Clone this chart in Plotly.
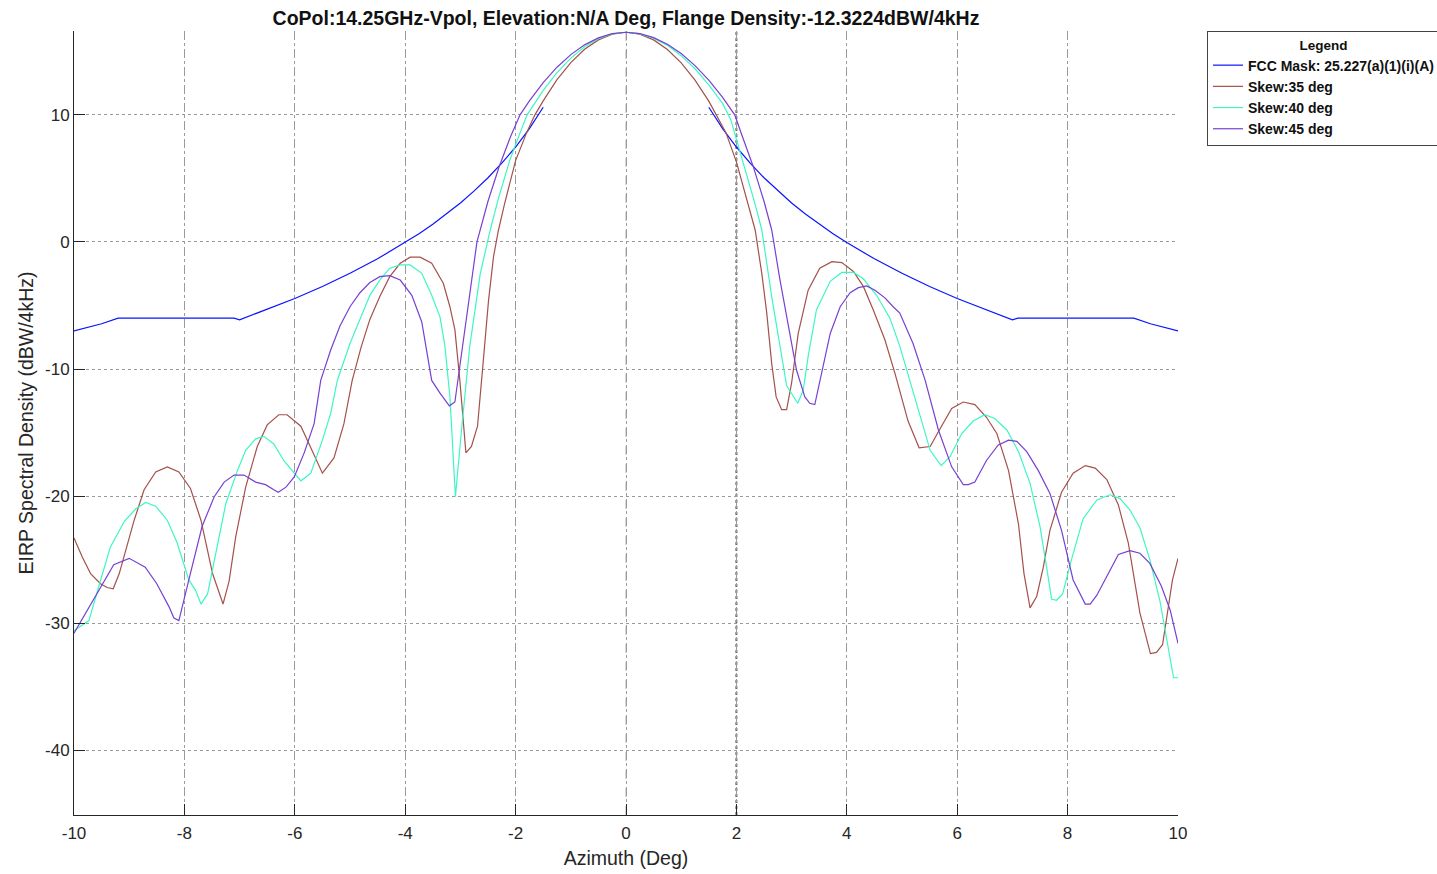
import plotly.graph_objects as go

# ---- FCC 25.227(a)(1)(i)(A) mask, one side (mirrored for negative azimuth) ----
mask_az = [1.5, 1.75, 2.0, 2.25, 2.5, 2.75, 3.0, 3.25, 3.5, 3.75, 4.0, 4.5, 5.0, 5.5,
           6.0, 6.5, 7.0, 7.1, 9.2, 9.5, 9.75, 10.0]
mask_db = [10.60, 8.92, 7.47, 6.20, 5.05, 4.02, 3.07, 2.20, 1.40, 0.65, -0.05, -1.33,
           -2.47, -3.51, -4.45, -5.32, -6.13, -6.00, -6.00, -6.44, -6.72, -7.00]

# ---- Skew 35 deg ----
skew35_az = [-10, -9.85, -9.70, -9.52, -9.40, -9.29, -9.18, -9.06, -8.91, -8.73, -8.52, -8.31,
             -8.10, -7.89, -7.70, -7.49, -7.30, -7.19, -7.07, -6.89, -6.68, -6.50, -6.29, -6.14,
             -5.89, -5.71, -5.50, -5.29, -5.11, -4.96, -4.8, -4.64, -4.46, -4.28, -4.09, -3.91,
             -3.73, -3.52, -3.31, -3.19, -3.10, -3.01, -2.90, -2.80, -2.69, -2.59, -2.49, -2.40,
             -2.31, -2.2, -2.0, -1.8, -1.65, -1.5, -1.25, -1.0, -0.75, -0.5, -0.25, 0,
             0.25, 0.5, 0.75, 1.0, 1.25, 1.5, 1.65,
             1.81, 2.0, 2.2, 2.34, 2.46, 2.55, 2.64, 2.72, 2.82, 2.91, 3.00, 3.12, 3.30, 3.51,
             3.73, 3.91, 4.12, 4.30, 4.48, 4.69, 4.87, 5.11, 5.31, 5.51, 5.69, 5.90, 6.11, 6.32,
             6.53, 6.72, 6.93, 7.11, 7.21, 7.32, 7.44, 7.56, 7.68, 7.89, 8.10, 8.32, 8.50, 8.71,
             8.92, 9.10, 9.31, 9.50, 9.61, 9.72, 9.90, 10.0]
skew35_db = [-23.3, -24.8, -26.1, -26.9, -27.2, -27.3, -26.1, -24.3, -21.9, -19.5, -18.1, -17.7,
             -18.1, -19.4, -21.9, -26.1, -28.5, -26.7, -23.2, -19.3, -16.1, -14.4, -13.6, -13.6,
             -14.5, -16.2, -18.2, -17.0, -14.3, -10.9, -8.3, -6.1, -4.3, -2.73, -1.68, -1.2,
             -1.2, -1.68, -3.25, -5.1, -6.9, -10.9, -16.6, -16.1, -14.5, -9.6, -4.6, -1.16,
             0.94, 3.0, 6.4, 8.6, 10.0, 11.1, 12.77, 14.11, 15.16, 15.9, 16.35, 16.5,
             16.35, 15.9, 15.14, 14.09, 12.73, 11.08, 9.9,
             8.6, 6.3, 3.2, 0.94, -2.47, -5.6, -9.6, -12.2, -13.2, -13.2, -11.1, -7.2, -3.8, -2.07,
             -1.55, -1.63, -2.33, -3.5, -5.35, -7.7, -10.3, -14.1, -16.2, -16.1, -14.7, -13.1, -12.6,
             -12.8, -13.8, -15.1, -18.0, -22.2, -26.1, -28.8, -27.9, -25.6, -22.7, -19.7, -18.2,
             -17.6, -17.8, -18.7, -20.7, -23.7, -29.2, -32.4, -32.3, -31.7, -26.6, -24.9]

# ---- Skew 40 deg ----
skew40_az = [-10, -9.73, -9.55, -9.34, -9.09, -8.88, -8.70, -8.52, -8.31, -8.13, -7.92, -7.80,
             -7.70, -7.58, -7.43, -7.25, -7.04, -6.89, -6.71, -6.56, -6.38, -6.20, -6.01, -5.89,
             -5.71, -5.50, -5.35, -5.23, -5.0, -4.8, -4.64, -4.46, -4.28, -4.09, -3.91, -3.70,
             -3.52, -3.37, -3.28, -3.19, -3.09, -2.98, -2.83, -2.64, -2.46, -2.3, -2.1, -1.9,
             -1.79, -1.5, -1.25, -1.0, -0.75, -0.5, -0.25, 0,
             0.25, 0.5, 0.75, 1.0, 1.25, 1.5, 1.75, 1.9, 2.05, 2.2, 2.35, 2.46,
             2.64, 2.79, 2.91, 3.11, 3.21, 3.30, 3.45, 3.70, 3.91, 4.12, 4.30, 4.54, 4.78, 4.96,
             5.14, 5.33, 5.51, 5.71, 5.87, 6.08, 6.29, 6.50, 6.68, 6.90, 7.11, 7.32, 7.50, 7.62,
             7.71, 7.80, 7.91, 8.07, 8.28, 8.53, 8.77, 8.95, 9.13, 9.31, 9.49, 9.67, 9.80, 9.92, 10.0]
skew40_db = [-30.6, -29.8, -27.1, -24.0, -22.0, -21.0, -20.5, -20.8, -21.9, -23.7, -26.6, -27.4,
             -28.5, -27.7, -24.5, -20.6, -18.0, -16.4, -15.5, -15.3, -15.9, -17.2, -18.2, -18.8,
             -18.2, -15.6, -13.5, -10.9, -8.0, -5.8, -4.2, -3.0, -2.07, -1.81, -1.81, -2.47,
             -4.2, -5.9, -8.2, -12.2, -20.05, -14.8, -8.2, -2.5, 0.94, 3.6, 6.5, 8.8,
             10.0, 11.93, 13.33, 14.47, 15.36, 15.99, 16.37, 16.5,
             16.39, 16.04, 15.47, 14.66, 13.63, 12.36, 10.9, 9.6, 7.4, 5.0, 2.8, 0.94,
             -4.3, -8.2, -11.3, -12.7, -11.7, -9.0, -5.35, -3.1, -2.4, -2.4, -2.9, -4.2, -6.0, -8.2,
             -10.9, -13.8, -16.4, -17.6, -16.9, -15.1, -14.1, -13.6, -13.9, -14.8, -16.5, -19.0, -22.4, -25.6,
             -28.1, -28.2, -27.7, -25.0, -21.8, -20.3, -19.9, -20.2, -21.1, -22.5, -25.0, -28.2, -31.3, -34.3, -34.3]

# ---- Skew 45 deg ----
skew45_az = [-10, -9.76, -9.52, -9.28, -9.0, -8.71, -8.5, -8.28, -8.19, -8.10, -7.92, -7.68,
             -7.46, -7.28, -7.10, -6.92, -6.71, -6.53, -6.38, -6.30, -6.16, -6.01, -5.83, -5.65,
             -5.53, -5.35, -5.18, -5.0, -4.82, -4.64, -4.46, -4.28, -4.09, -3.88, -3.70, -3.52,
             -3.37, -3.20, -3.10, -3.01, -2.86, -2.70, -2.5, -2.3, -2.1, -1.92, -1.75, -1.5, -1.25,
             -1.0, -0.75, -0.5, -0.25, 0, 0.25, 0.5, 0.75, 1.0, 1.25, 1.5, 1.75, 1.97, 2.1, 2.3,
             2.5, 2.64, 2.79, 2.94, 3.09,
             3.24, 3.33, 3.42, 3.55, 3.70, 3.88, 4.06, 4.21, 4.36, 4.51, 4.69, 4.84, 4.96, 5.2,
             5.42, 5.66, 5.90, 6.11, 6.20, 6.32, 6.53, 6.74, 6.93, 7.08, 7.26, 7.47, 7.68, 7.89,
             8.10, 8.32, 8.41, 8.53, 8.74, 8.92, 9.13, 9.31, 9.49, 9.70, 9.86, 10.0]
skew45_db = [-30.8, -29.0, -27.1, -25.4, -24.9, -25.6, -26.9, -28.7, -29.6, -29.8, -26.6, -22.4,
             -20.05, -18.9, -18.35, -18.35, -18.9, -19.1, -19.5, -19.7, -19.3, -18.5, -16.6, -14.3,
             -10.9, -8.5, -6.6, -5.1, -4.0, -3.2, -2.73, -2.65, -3.0, -4.2, -6.3, -10.9,
             -11.9, -12.9, -12.6, -9.8, -4.8, 0.0, 3.2, 5.9, 8.2, 10.0, 11.1, 12.54, 13.75,
             14.74, 15.51, 16.06, 16.39, 16.5, 16.4, 16.08, 15.56, 14.83, 13.88, 12.73, 11.37, 10.0, 8.4, 6.0,
             3.2, 0.94, -3.0, -6.7, -10.1,
             -12.2, -12.7, -12.8, -10.1, -7.2, -5.1, -4.0, -3.6, -3.46, -3.8, -4.4, -5.1, -5.6, -8.0,
             -10.9, -14.8, -17.7, -19.1, -19.1, -18.9, -17.2, -16.0, -15.6, -15.7, -16.5, -18.0, -19.8, -22.7,
             -26.6, -28.5, -28.5, -27.8, -26.1, -24.6, -24.3, -24.5, -25.3, -27.1, -29.0, -31.6]

x_ticks = [-10, -8, -6, -4, -2, 0, 2, 4, 6, 8, 10]
y_ticks = [-40, -30, -20, -10, 0, 10]

FONT = "Liberation Sans, Arial, sans-serif"

# mask: left branch (mirrored, from -10 to -1.5), gap, right branch
mask_x = [-a for a in reversed(mask_az)] + [None] + mask_az
mask_y = list(reversed(mask_db)) + [None] + mask_db

fig = go.Figure()
fig.add_trace(go.Scatter(x=mask_x, y=mask_y, mode="lines", name="FCC Mask: 25.227(a)(1)(i)(A)",
                         line=dict(color="#0a14ff", width=1.2), connectgaps=False))
fig.add_trace(go.Scatter(x=skew35_az, y=skew35_db, mode="lines", name="Skew:35 deg",
                         line=dict(color="#a4514b", width=1.2)))
fig.add_trace(go.Scatter(x=skew40_az, y=skew40_db, mode="lines", name="Skew:40 deg",
                         line=dict(color="#3cf7c2", width=1.2)))
fig.add_trace(go.Scatter(x=skew45_az, y=skew45_db, mode="lines", name="Skew:45 deg",
                         line=dict(color="#7740d2", width=1.2)))

L, R, T, B = 74, 259, 31, 59
W, H = 1437, 874
pw = W - L - R
ph = H - T - B


def px_x(p):
    return (p - L) / pw


def px_y(p):
    return (H - B - p) / ph


shapes = [
    # boresight marker
    dict(type="line", xref="x", yref="paper", x0=0, x1=0, y0=0, y1=1,
         line=dict(color="#b0b0b0", width=1, dash="dash"), layer="below"),
    # 2 deg marker
    dict(type="line", xref="x", yref="paper", x0=2, x1=2, y0=0, y1=1,
         line=dict(color="#6a6a6a", width=2, dash="dot"), layer="below"),
    # separator under legend heading
    dict(type="line", xref="paper", yref="paper", x0=px_x(1207), x1=px_x(1440),
         y0=px_y(57), y1=px_y(57), line=dict(color="#444444", width=1)),
]

fig.update_layout(
    width=W, height=H,
    margin=dict(l=L, r=R, t=T, b=B, autoexpand=False),
    paper_bgcolor="white", plot_bgcolor="white",
    font=dict(family=FONT, color="#262626", size=17),
    title=dict(text="<b>CoPol:14.25GHz-Vpol, Elevation:N/A Deg, Flange Density:-12.3224dBW/4kHz</b>",
               x=(L + pw / 2) / W, xanchor="center", y=1 - 18 / H, yanchor="middle",
               font=dict(family=FONT, size=19.5, color="#111111")),
    xaxis=dict(range=[-10, 10], tickvals=x_ticks, ticktext=[str(v) for v in x_ticks],
               showgrid=True, gridcolor="#9a9a9a", griddash="dashdot", gridwidth=1,
               zeroline=False, showline=True, linecolor="#262626", linewidth=1,
               ticks="inside", ticklen=11, tickcolor="#262626", mirror=False,
               tickfont=dict(size=17), ticklabelstandoff=3,
               title=dict(text="Azimuth (Deg)", font=dict(size=19.5), standoff=8)),
    yaxis=dict(range=[-45.1, 16.6], tickvals=y_ticks, ticktext=[str(v) for v in y_ticks],
               showgrid=True, gridcolor="#9a9a9a", griddash="dot", gridwidth=1,
               zeroline=False, showline=True, linecolor="#262626", linewidth=1,
               ticks="inside", ticklen=11, tickcolor="#262626", mirror=False,
               tickfont=dict(size=17),
               title=dict(text="EIRP Spectral Density (dBW/4kHz)", font=dict(size=19.5), standoff=6)),
    legend=dict(x=px_x(1207), xanchor="left", y=1, yanchor="top",
                bgcolor="white", bordercolor="#444444", borderwidth=1,
                font=dict(family=FONT, size=14, color="#111111", weight="bold"),
                title=dict(text="<b>Legend</b>", side="top center",
                           font=dict(family=FONT, size=13.5, color="#111111")),
                tracegroupgap=0, itemwidth=30),
    shapes=shapes,
    showlegend=True,
)

fig.write_html("out.html")
